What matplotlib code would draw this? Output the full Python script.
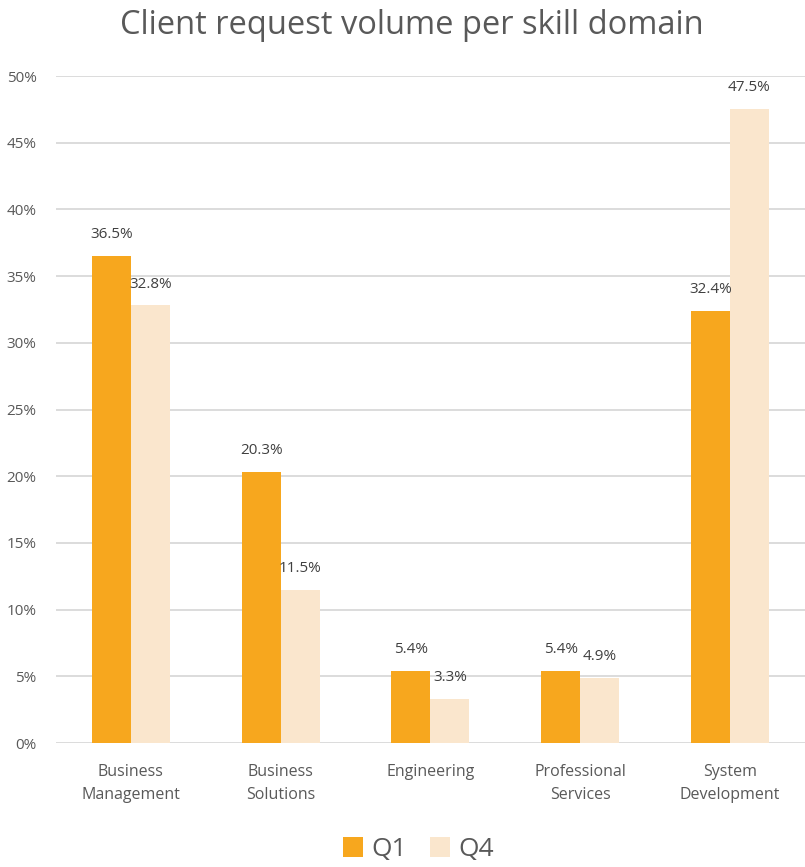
import numpy as np
import matplotlib.pyplot as plt
from matplotlib.ticker import FuncFormatter

categorias = ["Business\nManagement", "Business\nSolutions", "Engineering",
              "Professional\nServices", "System\nDevelopment"]
q1 = [36.5, 20.3, 5.4, 5.4, 32.4]
q4 = [32.8, 11.5, 3.3, 4.9, 47.5]

plt.rcParams['font.family'] = ['Open Sans', 'DejaVu Sans']
gris = '#595959'

fig = plt.figure(figsize=(8.05, 8.67), dpi=100)
ax = fig.add_axes([0.0696, 0.143, 0.93, 0.7693])

x = np.arange(len(categorias))
ancho = 0.26

b1 = ax.bar(x - ancho / 2, q1, ancho, color='#F7A71E', label='Q1', zorder=3)
b2 = ax.bar(x + ancho / 2, q4, ancho, color='#FAE6CD', label='Q4', zorder=3)

for barras, vals in [(b1, q1), (b2, q4)]:
    for b, v in zip(barras, vals):
        ax.annotate(f"{v:.1f}%", (b.get_x() + b.get_width() / 2, v),
                    xytext=(0, 10), textcoords='offset points',
                    ha='center', va='bottom', fontsize=11, color='#404040')

ax.set_xlim(-0.5, len(categorias) - 0.5)
ax.set_ylim(0, 50)
ax.set_yticks(np.arange(0, 51, 5))
ax.yaxis.set_major_formatter(FuncFormatter(lambda v, p: f"{v:.0f}%"))
ax.set_xticks(x)
ax.set_xticklabels(categorias, fontsize=11.5, color=gris, linespacing=1.6)
ax.tick_params(axis='y', labelsize=11, labelcolor=gris, length=0, pad=14)
ax.tick_params(axis='x', length=0, pad=15)
ax.grid(axis='y', color='#D9D9D9', linewidth=1.3, zorder=0)
for s in ax.spines.values():
    s.set_visible(False)

fig.suptitle('Client request volume per skill domain', fontsize=23.5,
             color=gris, x=0.512, y=0.99)

fig.legend(loc='lower center', ncol=2, frameon=False, fontsize=19,
           bbox_to_anchor=(0.52, -0.022), handlelength=0.75, handleheight=0.75,
           handletextpad=0.3, columnspacing=0.9, labelcolor=gris)

fig.savefig('out.png', dpi=100)
